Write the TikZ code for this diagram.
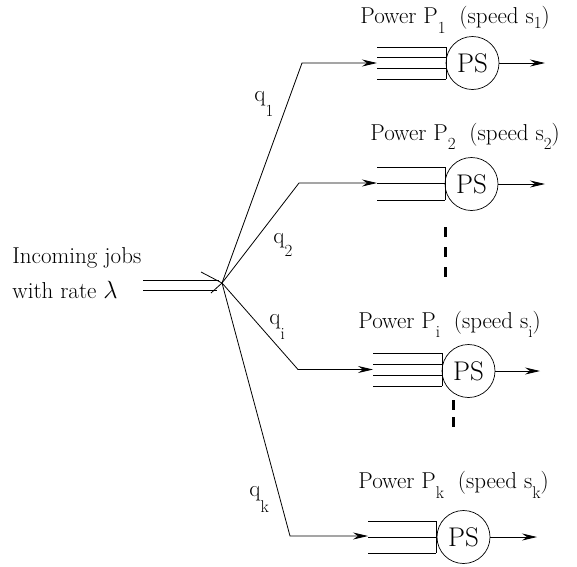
\documentclass[tikz,border=0pt]{standalone}
\usetikzlibrary{arrows.meta}
\newcommand\mysub[2][9pt]{\lower#1\hbox{\fontsize{17}{17}\selectfont #2}}
\begin{document}
\begin{tikzpicture}[x=1pt,y=-1pt,line width=0.8pt,
  lbl/.style={font=\fontsize{23}{25}\selectfont,inner sep=0pt,anchor=base west},
  psnode/.style={circle,draw,line width=0.7pt,minimum size=53pt,inner sep=0pt,font=\fontsize{27}{27}\selectfont},
  arr/.style={-{Stealth[length=15pt,width=7pt,inset=5pt]}},
  qline/.style={line width=0.8pt},
  dots/.style={line width=3pt,dash pattern=on 10pt off 10pt}]
\useasboundingbox (0,0) rectangle (577,566);

% incoming
\node[lbl] (t1) at (12,263) {Incoming jobs};
\node[lbl] (t2) at (12,298) {with rate $\lambda$};
\coordinate (J) at (222,283);
\coordinate (ia) at (143,280); \coordinate (iae) at (219,280);
\coordinate (ib) at (143,290); \coordinate (ibe) at (217,290);
\coordinate (ba) at (201,272); \coordinate (bb) at (211,293);
\draw (ia) -- (iae);
\draw (ib) -- (ibe);
\draw (ba) -- (J) -- (bb);

% branch 1
\coordinate (c1) at (302,63); \coordinate (e1) at (377,63);
\draw[arr] (J) -- (c1) -- (e1);
\foreach \y in {47,57.5,68.5,79} \draw[qline] (377,\y) -- (446,\y);
\draw[qline] (446,47) -- (446,79);
\node[psnode] (S1) at (472.5,63) {PS};
\coordinate (o1) at (545,63);
\draw[arr] (S1.east) -- (o1);
\node[lbl] (L1) at (360,23) {Power P\mysub[10pt]{1}\hspace{0.6em}(speed s\mysub[5pt]{1})};
\node[lbl] (q1) at (254,101) {q\mysub[15pt]{1}};

% branch 2
\coordinate (c2) at (299,183); \coordinate (e2) at (377,183);
\draw[arr] (J) -- (c2) -- (e2);
\foreach \y in {167,183,200} \draw[qline] (377,\y) -- (445,\y);
\draw[qline] (445,167) -- (445,200);
\node[psnode] (S2) at (471.5,184) {PS};
\coordinate (o2) at (545,184);
\draw[arr] (S2.east) -- (o2);
\node[lbl] (L2) at (370,140) {Power P\mysub[9pt]{2}\hspace{0.6em}(speed s\mysub[9pt]{2})};
\node[lbl] (q2) at (273,243) {q\mysub[13pt]{2}};

% dots
\coordinate (d1) at (445,227); \coordinate (d2) at (445,282);
\draw[dots] (d1) -- (d2);
\coordinate (d3) at (453,400); \coordinate (d4) at (453,430);
\draw[dots,dash pattern=on 10pt off 7pt] (d3) -- (d4);

% branch i
\coordinate (ci) at (298,369.5); \coordinate (ei) at (373,369.5);
\draw[arr] (J) -- (ci) -- (ei);
\foreach \y in {353,364,375,386} \draw[qline] (373,\y) -- (442,\y);
\draw[qline] (442,353) -- (442,386);
\node[psnode] (Si) at (468.5,371) {PS};
\coordinate (oi) at (540,371);
\draw[arr] (Si.east) -- (oi);
\node[lbl] (Li) at (358,328) {Power P\mysub[9pt]{i}\hspace{0.6em}(speed s\mysub[9pt]{i})};
\node[lbl] (qi) at (269,324) {q\mysub[15pt]{i}};

% branch k
\coordinate (ck) at (290,536); \coordinate (ek) at (368,536);
\draw[arr] (J) -- (ck) -- (ek);
\foreach \y in {521,537,553} \draw[qline] (368,\y) -- (436,\y);
\draw[qline] (436,521) -- (436,553);
\node[psnode] (Sk) at (463.5,537) {PS};
\coordinate (ok) at (537,537);
\draw[arr] (Sk.east) -- (ok);
\node[lbl] (Lk) at (358,488) {Power P\mysub[10pt]{k}\hspace{0.6em}(speed s\mysub[10pt]{k})};
\node[lbl] (qk) at (249,496) {q\mysub[16pt]{k}};
\end{tikzpicture}
\end{document}
